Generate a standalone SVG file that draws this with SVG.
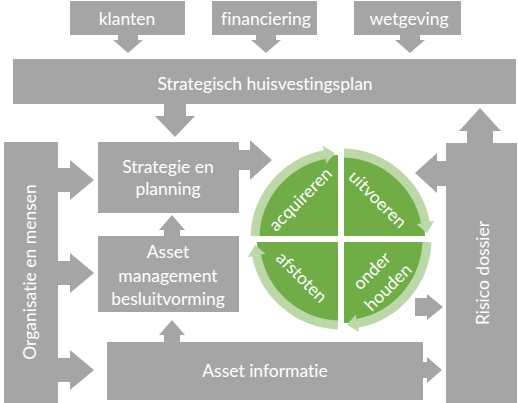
<svg xmlns="http://www.w3.org/2000/svg" width="518" height="403" viewBox="0 0 518 403">
  <style>
    .g { fill: #A5A5A5; }
    .t { fill: #FFFFFF; font-family: Lato, "Open Sans", "Liberation Sans", sans-serif; font-size: 17.5px; text-anchor: middle; font-variant-ligatures: none; font-feature-settings: "liga" 0; }
    .q { fill: #70AD47; }
    .ring { fill: none; stroke: #BCD8A8; stroke-width: 9; }
    .head { fill: #BCD8A8; }
  </style>
  <defs>
    <g id="ringArrow">
      <path class="ring" d="M255.05,236.0 A86,86 0 0 1 324.59,154.58"/>
      <path class="head" d="M326.31,163.42 L322.87,145.75 L335.0,153.21 Z"/>
    </g>
  </defs>
  <rect width="518" height="403" fill="#FFFFFF"/>

  <g id="klanten">
    <path class="g" d="M70,1 H185 V35 H138 V40 H143 L128,53 L113,40 H118 V35 H70 Z"/>
    <text class="t" x="127" y="25">klanten</text>
  </g>
  <g id="financiering">
    <path class="g" d="M212,1 H317 V35 H276 V40 H281 L266,53 L251,40 H256 V35 H212 Z"/>
    <text class="t" x="266" y="25">financiering</text>
  </g>
  <g id="wetgeving">
    <path class="g" d="M354,1 H461 V35 H420 V40 H425 L410,53 L395,40 H400 V35 H354 Z"/>
    <text class="t" x="409" y="25">wetgeving</text>
  </g>

  <g id="huisvestingsplan">
    <path class="g" d="M13,59 H516 V104 H186 V116 H195 L175,137 L155,116 H164 V104 H13 Z"/>
    <text class="t" x="265" y="90">Strategisch huisvestingsplan</text>
  </g>

  <g id="strategie">
    <path class="g" d="M98,142 H239 V150 H250 V140 L272,160 L250,180 V170 H239 V213 H98 Z"/>
    <text class="t" x="168" y="173">Strategie en</text>
    <text class="t" x="168" y="195">planning</text>
  </g>

  <g id="besluitvorming">
    <path class="g" d="M98,236 H164 V230 H159 L172,215 L185,230 H180 V236 H239 V312 H98 Z"/>
    <text class="t" x="168" y="258">Asset</text>
    <text class="t" x="168" y="282">management</text>
    <text class="t" x="168" y="305">besluitvorming</text>
  </g>

  <g id="assetinformatie">
    <path class="g" d="M107,342 H164 V335 H159 L172,320 L185,335 H180 V342 H423 V362 H427 V357 L442,370 L427,383 V378 H423 V400 H107 Z"/>
    <text class="t" x="265" y="377">Asset informatie</text>
  </g>

  <g id="organisatie">
    <path class="g" d="M4,142 H58 V168 H70 V160 L94,180 L70,200 V192 H58 V261 H70 V253 L94,273 L70,293 V285 H58 V358 H70 V350 L94,370 L70,390 V382 H58 V403 H4 Z"/>
    <text class="t" transform="translate(36,272) rotate(-90)" x="0" y="0">Organisatie en mensen</text>
  </g>

  <g id="risico">
    <path class="g" d="M446,143 H467 V131 H459 L480,108 L501,131 H493 V143 H517 V403 H446 V186 H437 V193 L415,173 L437,153 V161 H446 Z"/>
    <text class="t" transform="translate(489,273) rotate(-90)" x="0" y="0">Risico dossier</text>
  </g>

  <g id="cyclus">
    <g id="acquireren">
      <path class="q" d="M338,236 H257 A81,81 0 0 1 338,155 Z"/>
      <text class="t" transform="translate(301,200) rotate(-45)" x="0" y="5">acquireren</text>
    </g>
    <g id="uitvoeren">
      <path class="q" d="M344,236 V155 A81,81 0 0 1 425,236 Z"/>
      <text class="t" transform="translate(377,200) rotate(45)" x="0" y="5">uitvoeren</text>
    </g>
    <g id="onderhouden">
      <path class="q" d="M344,242 H425 A81,81 0 0 1 344,323 Z"/>
      <text class="t" transform="translate(380,279) rotate(-45)" x="0" y="-5.5">onder</text>
      <text class="t" transform="translate(380,279) rotate(-45)" x="0" y="17.5">houden</text>
    </g>
    <g id="afstoten">
      <path class="q" d="M338,242 V323 A81,81 0 0 1 257,242 Z"/>
      <text class="t" transform="translate(301,278) rotate(45)" x="0" y="5">afstoten</text>
    </g>
  </g>

  <g id="connectors">
    <use href="#ringArrow"/>
    <use href="#ringArrow" transform="rotate(90 341 239)"/>
    <use href="#ringArrow" transform="rotate(180 341 239)"/>
    <use href="#ringArrow" transform="rotate(270 341 239)"/>
    <path class="g" d="M415,298 H427 V294 L443,307 L427,320 V316 H415 Z"/>
  </g>
</svg>
